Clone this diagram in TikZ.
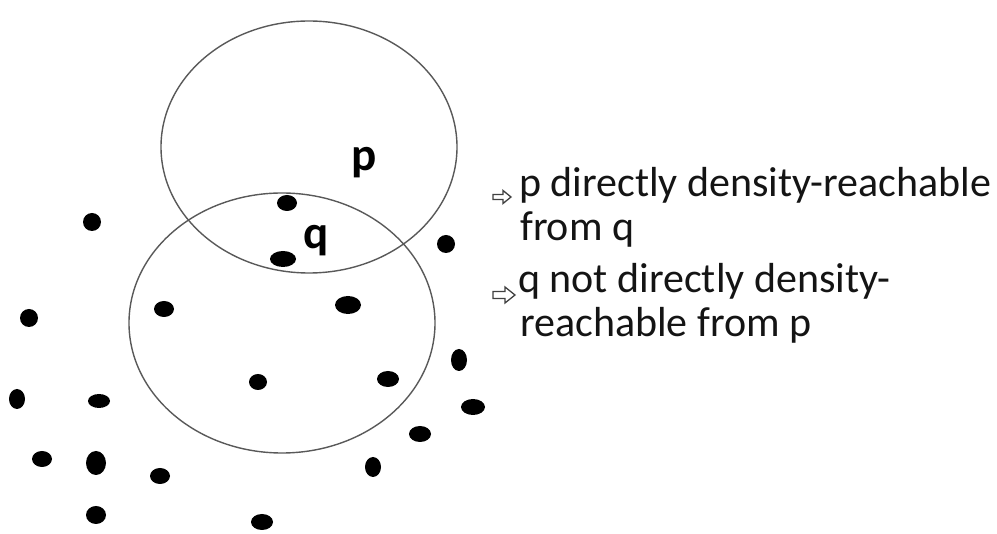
\documentclass[tikz,border=0pt]{standalone}
\usepackage{fontspec}
\setmainfont{Carlito}
\begin{document}
\begin{tikzpicture}[x=1pt,y=-1pt,
  ring/.style={draw=black!65, line width=1.4pt},
  dot/.style={fill=black},
  txt/.style={anchor=base west, inner sep=0pt, font=\fontsize{42}{45}\selectfont, text=black!92},
  lbl/.style={anchor=base west, inner sep=0pt, font=\fontsize{47}{50}\selectfont\bfseries},
  blockarrow/.style={draw=black!75, line width=1.3pt, line join=miter, fill=white}]
\useasboundingbox (0,0) rectangle (997,534);
% neighbourhoods
\draw[ring] (309,147) ellipse [x radius=148, y radius=126];
\draw[ring] (282,323) ellipse [x radius=153, y radius=130];
% points
\fill[dot] (287,203) ellipse [x radius=10, y radius=8];
\fill[dot] (92,222) ellipse [x radius=9, y radius=9];
\fill[dot] (283,259) ellipse [x radius=13, y radius=8];
\fill[dot] (446,244) ellipse [x radius=9, y radius=9];
\fill[dot] (164,309) ellipse [x radius=10, y radius=8];
\fill[dot] (348,305) ellipse [x radius=13, y radius=9];
\fill[dot] (29,318) ellipse [x radius=9, y radius=9];
\fill[dot] (459,360) ellipse [x radius=8, y radius=11];
\fill[dot] (258,382) ellipse [x radius=9, y radius=8];
\fill[dot] (388,379) ellipse [x radius=11, y radius=8];
\fill[dot] (17,399) ellipse [x radius=8, y radius=10];
\fill[dot] (99,401) ellipse [x radius=11, y radius=7];
\fill[dot] (473,407) ellipse [x radius=12, y radius=8];
\fill[dot] (420,434) ellipse [x radius=11, y radius=8];
\fill[dot] (42,459) ellipse [x radius=10, y radius=8];
\fill[dot] (96,463) ellipse [x radius=10, y radius=12];
\fill[dot] (160,476) ellipse [x radius=10, y radius=8];
\fill[dot] (373,467) ellipse [x radius=8, y radius=10];
\fill[dot] (96,515) ellipse [x radius=10, y radius=9];
\fill[dot] (262,522) ellipse [x radius=11, y radius=8];
% labels
\node[lbl] (p) at (351,171) {p};
\node[lbl] (q) at (303,249) {q};
% bullet arrows
\draw[blockarrow] (493,194.5) -- (503,194.5) -- (503,190.5) -- (511,197) -- (503,203.5) -- (503,199.5) -- (493,199.5) -- cycle;
\draw[blockarrow] (493,291.5) -- (505,291.5) -- (505,287) -- (515,295) -- (505,303) -- (505,298.5) -- (493,298.5) -- cycle;
% text
\node[txt] (t1) at (519,197) {p directly density-reachable};
\node[txt] (t2) at (520,241) {from q};
\node[txt] (t3) at (518,293) {q not directly density-};
\node[txt] (t4) at (520,337) {reachable from p};
\end{tikzpicture}
\end{document}
